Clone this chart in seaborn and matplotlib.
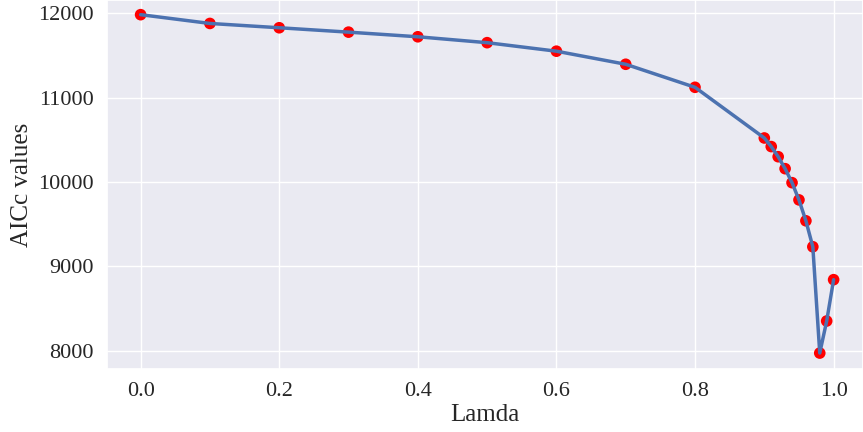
import matplotlib
matplotlib.use("Agg")
import matplotlib.pyplot as plt
import seaborn as sns
import pandas as pd

lamda = [0.0, 0.1, 0.2, 0.3, 0.4, 0.5, 0.6, 0.7, 0.8, 0.9,
         0.91, 0.92, 0.93, 0.94, 0.95, 0.96, 0.97, 0.98, 0.99, 1.0]
aicc = [11984, 11880, 11829, 11777, 11722, 11652, 11551, 11396, 11123, 10522,
        10420, 10300, 10158, 9992, 9788, 9540, 9232, 7972, 8352, 8842]

df = pd.DataFrame({"Lamda": lamda, "AICc values": aicc})

sns.set_theme(style="darkgrid", font_scale=1.4)
plt.rcParams["font.family"] = ["Liberation Serif", "DejaVu Serif"]

fig = plt.figure(figsize=(8.63, 4.32), dpi=100)
ax = fig.add_axes([107 / 863, 63 / 432, 1 - 107 / 863, 1 - 63 / 432])
sns.lineplot(data=df, x="Lamda", y="AICc values", ax=ax, color="#4c72b0", linewidth=2.5)
sns.scatterplot(data=df, x="Lamda", y="AICc values", ax=ax, color="red", s=70,
                edgecolor="none", zorder=1)
ax.lines[0].set_zorder(2)
ax.set_xlim(-0.0485, 1.0424)
ax.set_ylim(7783, 12158)
ax.set_xlabel("Lamda", fontsize=18, labelpad=2)
ax.set_ylabel("AICc values", fontsize=18)
ax.tick_params(labelsize=16)
fig.savefig("out.png", dpi=100)
